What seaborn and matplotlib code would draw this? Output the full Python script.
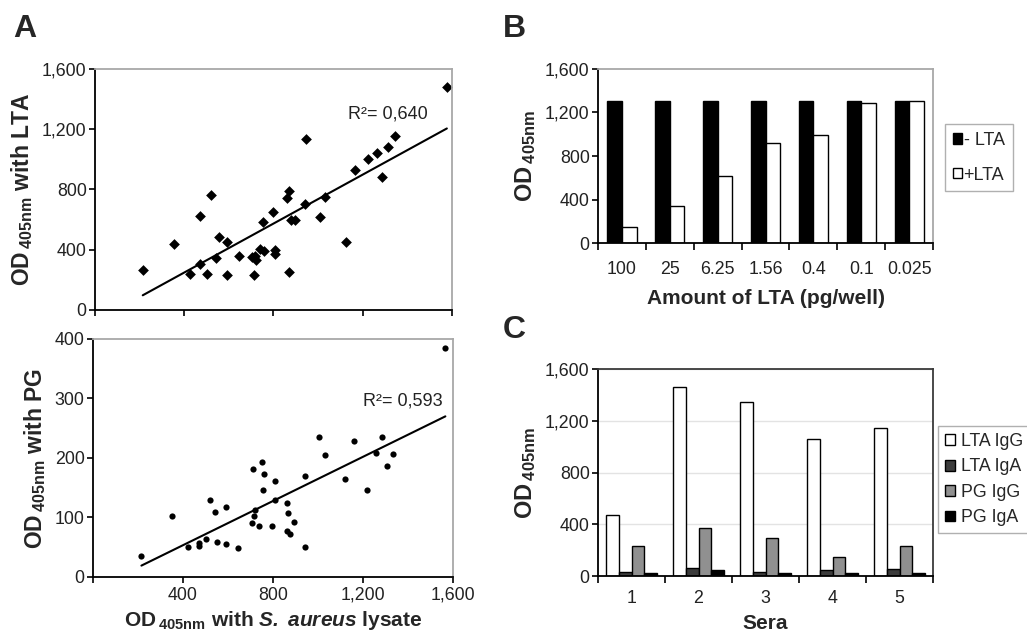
import pandas as pd
import numpy as np
import matplotlib.pyplot as plt
import matplotlib.ticker as mticker
import seaborn as sns

sns.set_theme(style="white")
plt.rcParams["font.family"] = ["Liberation Sans", "DejaVu Sans"]
plt.rcParams["mathtext.fontset"] = "custom"
plt.rcParams["mathtext.rm"] = "Liberation Sans"
plt.rcParams["mathtext.bf"] = "Liberation Sans:bold"
plt.rcParams["mathtext.it"] = "Liberation Sans:italic"
plt.rcParams["mathtext.bfit"] = "Liberation Sans:italic:bold"

# Panel A (top): S. aureus lysate vs LTA
lysate_lta = [214, 353, 427, 471, 472, 501, 522, 541, 556, 593, 593, 644, 703,
              716, 713, 722, 741, 758, 755, 797, 809, 809, 862, 868, 868, 879,
              895, 943, 946, 1007, 1033, 1126, 1166, 1223, 1263, 1288, 1311,
              1344, 1577]
od_lta = [265, 437, 239, 308, 622, 239, 763, 346, 486, 451, 232, 361, 350,
          359, 232, 330, 406, 393, 582, 649, 397, 372, 745, 787, 250, 596,
          600, 705, 1135, 616, 752, 453, 932, 1004, 1044, 883, 1080,
          1153, 1479]

# Panel A (bottom): S. aureus lysate vs PG
lysate_pg = [215, 351, 424, 471, 471, 501, 521, 541, 553, 593, 593, 644, 707,
             711, 717, 720, 739, 751, 759, 757, 797, 807, 809, 864, 868, 862,
             877, 893, 944, 942, 1004, 1030, 1121, 1161, 1219, 1258, 1283,
             1307, 1333, 1566]
od_pg = [35, 103, 50, 57, 52, 63, 130, 109, 58, 117, 56, 48, 91,
         181, 103, 112, 85, 194, 173, 146, 85, 162, 130, 125, 107, 78,
         73, 92, 170, 50, 236, 205, 164, 229, 146, 209, 236,
         186, 206, 384]

# Panel B: inhibition with LTA
amounts = ["100", "25", "6.25", "1.56", "0.4", "0.1", "0.025"]
minus_lta = [1305, 1305, 1305, 1305, 1305, 1305, 1305]
plus_lta = [148, 338, 615, 923, 994, 1286, 1305]

# Panel C: sera
sera = ["1", "2", "3", "4", "5"]
lta_igg = [472, 1459, 1343, 1057, 1147]
lta_iga = [33, 64, 33, 44, 52]
pg_igg = [235, 374, 294, 150, 235]
pg_iga = [20, 44, 20, 20, 20]

fmt = mticker.StrMethodFormatter("{x:,.0f}")
od_label = r"OD$\,{}_{\mathbf{405nm}}$"


def style_axes(ax, light_frame=True):
    for side in ["left", "bottom"]:
        ax.spines[side].set_color("black")
        ax.spines[side].set_linewidth(1.3)
    for side in ["top", "right"]:
        ax.spines[side].set_color("#a8a8a8" if light_frame else "#3a3a3a")
        ax.spines[side].set_linewidth(1.3)
    ax.tick_params(axis="y", which="major", direction="out", length=4,
                   width=1.2, color="black", labelsize=12.8, pad=2,
                   left=True, labelcolor="#222222")
    ax.yaxis.set_major_formatter(fmt)


fig = plt.figure(figsize=(10.27, 6.33), dpi=100)
axA1 = fig.add_axes([0.0925, 0.5103, 0.3476, 0.3807])
axA2 = fig.add_axes([0.0906, 0.0885, 0.3505, 0.376])
axB = fig.add_axes([0.5823, 0.6161, 0.3262, 0.2749])
axC = fig.add_axes([0.5823, 0.0900, 0.3262, 0.327])

# Scatter plots with regression lines
sns.regplot(x=lysate_lta, y=od_lta, ax=axA1, ci=None, truncate=True,
            marker="D", color="black",
            scatter_kws={"s": 30, "linewidths": 0, "alpha": 1},
            line_kws={"lw": 1.5})
sns.regplot(x=lysate_pg, y=od_pg, ax=axA2, ci=None, truncate=True,
            marker="o", color="black",
            scatter_kws={"s": 20, "linewidths": 0, "alpha": 1},
            line_kws={"lw": 1.5})

for ax, ymax in [(axA1, 1600), (axA2, 400)]:
    style_axes(ax)
    ax.set_xlim(0, 1600)
    ax.set_ylim(0, ymax)
    ax.set_xticks([0, 400, 800, 1200, 1600])
    ax.tick_params(axis="x", direction="out", length=4, width=1.2,
                   color="black", labelsize=12.8, pad=3, bottom=True,
                   labelcolor="#222222")

axA1.set_yticks([0, 400, 800, 1200, 1600])
axA1.set_xticklabels([])
axA2.set_yticks([0, 100, 200, 300, 400])
axA2.set_xticklabels(["", "400", "800", "1,200", "1,600"])

axA1.text(1490, 1300, "R²= 0,640", ha="right", va="center", fontsize=13,
          color="#222222")
axA2.text(1556, 295, "R²= 0,593", ha="right", va="center", fontsize=13,
          color="#222222")

axA1.set_ylabel(od_label + " with LTA", fontsize=16.5, fontweight="bold",
                labelpad=5)
axA2.set_ylabel(od_label + " with PG", fontsize=16.5, fontweight="bold",
                labelpad=5)
axA2.set_xlabel(od_label + r" with $\mathbfit{S.\ aureus}$ lysate",
                fontsize=15, fontweight="bold", labelpad=4)
axA1.set_xlabel("")

# Panel B
dfB = pd.DataFrame({
    "amount": amounts + amounts,
    "od": minus_lta + plus_lta,
    "group": ["- LTA"] * len(amounts) + ["+LTA"] * len(amounts),
})
sns.barplot(data=dfB, x="amount", y="od", hue="group", order=amounts,
            palette={"- LTA": "black", "+LTA": "white"},
            edgecolor="black", linewidth=1, width=0.61, ax=axB)

# Panel C
dfC = pd.DataFrame({
    "sera": sera * 4,
    "od": lta_igg + lta_iga + pg_igg + pg_iga,
    "ab": ["LTA IgG"] * 5 + ["LTA IgA"] * 5 + ["PG IgG"] * 5 + ["PG IgA"] * 5,
})
sns.barplot(data=dfC, x="sera", y="od", hue="ab", order=sera,
            palette={"LTA IgG": "white", "LTA IgA": "#3c3c3c",
                     "PG IgG": "#909090", "PG IgA": "black"},
            edgecolor="black", linewidth=1, width=0.75, ax=axC)
axC.yaxis.grid(True, color="#e3e3e3", lw=1)
axC.set_axisbelow(True)

for ax, n, light in [(axB, len(amounts), True), (axC, len(sera), False)]:
    style_axes(ax, light_frame=light)
    ax.set_ylim(0, 1600)
    ax.set_yticks([0, 400, 800, 1200, 1600])
    ax.set_xlim(-0.5, n - 0.5)
    ax.xaxis.set_minor_locator(mticker.FixedLocator(np.arange(n + 1) - 0.5))
    ax.tick_params(axis="x", which="major", length=0, labelsize=12.8,
                   labelcolor="#222222")
    ax.tick_params(axis="x", which="minor", direction="out", length=5,
                   width=1.2, color="black", bottom=True)
    ax.set_ylabel(od_label, fontsize=17, fontweight="bold", labelpad=5)

axB.tick_params(axis="x", which="major", pad=13)
axC.tick_params(axis="x", which="major", pad=10)
axB.set_xlabel("Amount of LTA (pg/well)", fontsize=15, fontweight="bold",
               labelpad=8)
axC.set_xlabel("Sera", fontsize=15, fontweight="bold", labelpad=5)

hB, lB = axB.get_legend_handles_labels()
axB.legend(hB, lB, loc="upper left", bbox_to_anchor=(0.920, 0.804),
           bbox_transform=fig.transFigure, fontsize=13, frameon=True,
           fancybox=False, edgecolor="#b0b0b0", framealpha=1,
           handlelength=0.5, handleheight=0.5, handletextpad=0.1,
           labelspacing=0.97, borderpad=0.44, borderaxespad=0)
hC, lC = axC.get_legend_handles_labels()
axC.legend(hC, lC, loc="upper left", bbox_to_anchor=(0.913, 0.327),
           bbox_transform=fig.transFigure, fontsize=12.8, frameon=True,
           fancybox=False, edgecolor="#b0b0b0", framealpha=1,
           handlelength=0.55, handleheight=0.55, handletextpad=0.35,
           labelspacing=0.47, borderpad=0.4, borderaxespad=0)

# Panel letters
fig.text(0.013, 0.978, "A", fontsize=23, fontweight="bold", va="top")
fig.text(0.490, 0.978, "B", fontsize=23, fontweight="bold", va="top")
fig.text(0.490, 0.503, "C", fontsize=23, fontweight="bold", va="top")

plt.savefig("out.png", dpi=100)
plt.close()
